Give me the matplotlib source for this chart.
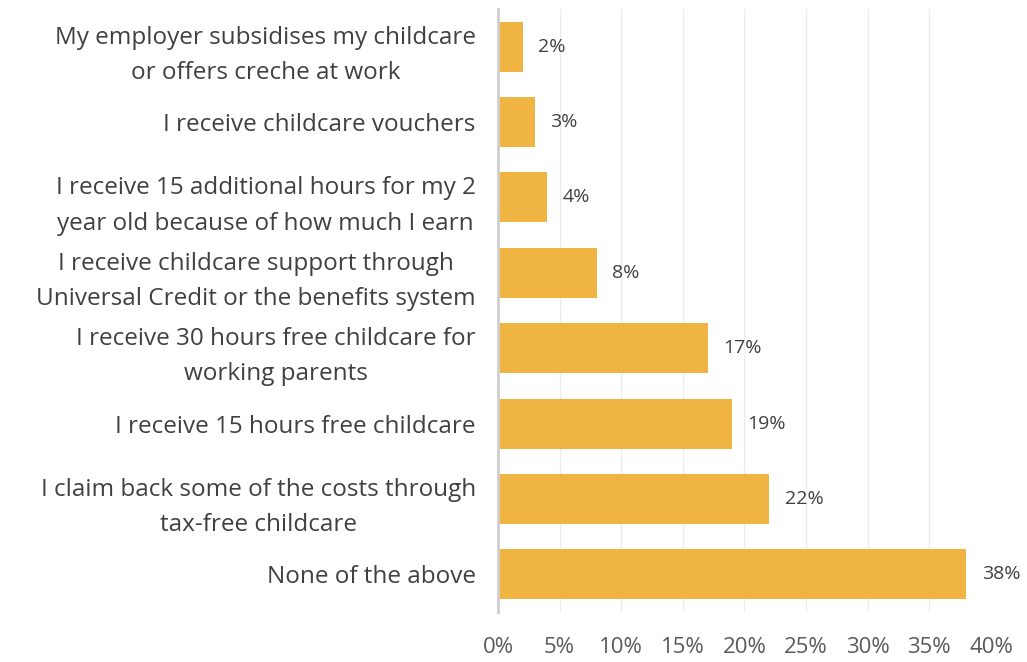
import matplotlib
matplotlib.use("Agg")
import matplotlib.pyplot as plt
from matplotlib.ticker import FuncFormatter

plt.rcParams["font.family"] = ["Open Sans", "DejaVu Sans"]

categories = [
    "My employer subsidises my childcare\nor offers creche at work",
    "I receive childcare vouchers",
    "I receive 15 additional hours for my 2\nyear old because of how much I earn",
    "I receive childcare support through\nUniversal Credit or the benefits system",
    "I receive 30 hours free childcare for\nworking parents",
    "I receive 15 hours free childcare",
    "I claim back some of the costs through\ntax-free childcare",
    "None of the above",
]
values = [2, 3, 4, 8, 17, 19, 22, 38]
x_ticks = [0, 5, 10, 15, 20, 25, 30, 35, 40]

BAR = "#F0B442"
TEXT = "#404040"

fig = plt.figure(figsize=(10.27, 6.62), dpi=100)
ax = fig.add_axes([0.4849, 0.0755, 0.48, 0.911])

ypos = list(range(len(categories)))
ax.barh(ypos, values, height=0.663, color=BAR, zorder=3)
ax.set_ylim(len(categories) - 0.5, -0.5)
ax.set_xlim(0, 40)

# percentage label just past the end of each bar
for y, v in zip(ypos, values):
    ax.text(v + 1.25, y, f"{v}%", va="center", ha="left", fontsize=14, color=TEXT, zorder=4)

ax.set_yticks(ypos)
ax.set_yticklabels(categories, fontsize=17.5, color=TEXT, multialignment="center", linespacing=1.62)
ax.tick_params(axis="y", length=0, pad=16)

ax.set_xticks(x_ticks)
ax.xaxis.set_major_formatter(FuncFormatter(lambda v, _: f"{v:.0f}%"))
ax.tick_params(axis="x", length=0, pad=18, labelsize=16, labelcolor="#5A5A5A")
ax.grid(axis="x", color="#ECECEC", linewidth=1, zorder=0)

for side in ["top", "right", "bottom"]:
    ax.spines[side].set_visible(False)
ax.spines["left"].set_color("#CFCFCF")
ax.spines["left"].set_linewidth(2)
ax.spines["left"].set_zorder(4)

fig.savefig("out.png", dpi=100, facecolor="white")
